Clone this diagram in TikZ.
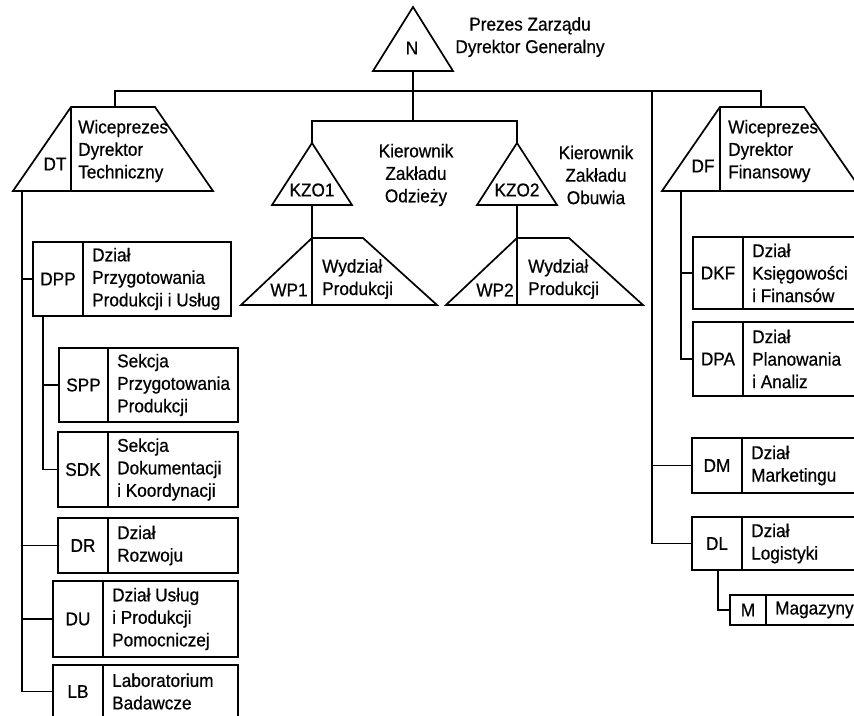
\documentclass[tikz,border=0pt]{standalone}
\usepackage{fontspec}
\setmainfont{Liberation Sans}[FakeStretch=0.93,FakeBold=0.6]
\usetikzlibrary{fit}

% Box with a code field on the left and a description on the right:
% #1 name, #2 left, #3 top, #4 right, #5 bottom, #6 divider x, #7 code, #8 description
\newcommand\orgbox[8]{%
  \coordinate (#1-nw) at (#2,#3);
  \coordinate (#1-se) at (#4,#5);
  \node[boxshape, fit=(#1-nw)(#1-se)] (#1) {};
  \draw[outline] (#6,#3) -- (#6,#5);
  \node[txt] (#1-code) at ({(#2+#6)/2},{(#3+#5)/2}) {#7};
  \node[lbl] (#1-label) at ({#6+9},{(#3+#5)/2}) {#8};
}

\begin{document}
\begin{tikzpicture}[x=1pt,y=-1pt,
  outline/.style={draw, line width=1.7pt, line join=miter},
  boxshape/.style={draw, line width=1.7pt, inner sep=0pt, rectangle},
  conn/.style={draw, line width=1.9pt},
  txt/.style={font=\fontsize{18.5}{22.5}\selectfont, inner sep=0pt},
  lbl/.style={txt, align=left, anchor=west},
  ctr/.style={txt, align=center}]

\useasboundingbox (0,0) rectangle (854,715);
\fill[white] (0,0) rectangle (854,715);
\clip (0,0) rectangle (854,715);

% ---- President (triangle) ----
\coordinate (N-apex) at (413,7);
\coordinate (N-base) at (413,71);
\draw[outline] (N-apex) -- (373,71) -- (453,71) -- cycle;
\node[txt] (N) at (412,48) {N};
\node[ctr] (N-label) at (530,37) {Prezes Zarządu\\Dyrektor Generalny};

% ---- Technical vice-president (trapezoid) ----
\draw[outline] (13,191) -- (71,107) -- (155,107) -- (213,191) -- cycle;
\draw[outline] (71,107) -- (71,191);
\coordinate (DT-top) at (115,107);
\coordinate (DT-foot) at (22,191);
\node[txt] (DT) at (55,164) {DT};
\node[lbl] (DT-label) at (78,151) {Wiceprezes\\Dyrektor\\Techniczny};

% ---- Financial vice-president (trapezoid) ----
\draw[outline] (662,191) -- (720,107) -- (804,107) -- (862,191) -- cycle;
\draw[outline] (720,107) -- (720,191);
\coordinate (DF-top) at (761,107);
\coordinate (DF-foot) at (681,191);
\node[txt] (DF) at (703,166) {DF};
\node[lbl] (DF-label) at (728,151) {Wiceprezes\\Dyrektor\\Finansowy};

% ---- Plant managers (triangles) ----
\coordinate (KZO1-apex) at (312,143);
\coordinate (KZO1-base) at (312,205);
\draw[outline] (KZO1-apex) -- (272,205) -- (352,205) -- cycle;
\node[txt] (KZO1) at (312,190) {KZO1};
\node[ctr] (KZO1-label) at (416,175) {Kierownik\\Zakładu\\Odzieży};

\coordinate (KZO2-apex) at (517,143);
\coordinate (KZO2-base) at (517,205);
\draw[outline] (KZO2-apex) -- (477,205) -- (557,205) -- cycle;
\node[txt] (KZO2) at (517,190) {KZO2};
\node[ctr] (KZO2-label) at (596,175) {Kierownik\\Zakładu\\Obuwia};

% ---- Production departments (trapezoids) ----
\coordinate (WP1-top) at (312,238);
\draw[outline] (241,305) -- (312,238) -- (363,238) -- (437,305) -- cycle;
\draw[outline] (312,238) -- (312,305);
\node[txt] (WP1) at (289,290) {WP1};
\node[lbl] (WP1-label) at (322,279) {Wydział\\Produkcji};

\coordinate (WP2-top) at (517,238);
\draw[outline] (446,305) -- (517,238) -- (569,238) -- (643,305) -- cycle;
\draw[outline] (517,238) -- (517,305);
\node[txt] (WP2) at (495,290) {WP2};
\node[lbl] (WP2-label) at (528,279) {Wydział\\Produkcji};

% ---- Departments and sections ----
\orgbox{DPP}{33}{242}{231}{316}{83}{DPP}{Dział\\Przygotowania\\Produkcji i Usług}
\orgbox{SPP}{59}{348}{238}{422}{108}{SPP}{Sekcja\\Przygotowania\\Produkcji}
\orgbox{SDK}{58}{432}{238}{507}{108}{SDK}{Sekcja\\Dokumentacji\\i Koordynacji}
\orgbox{DR}{58}{518}{238}{573}{108}{DR}{Dział\\Rozwoju}
\orgbox{DU}{53}{581}{238}{657}{103}{DU}{Dział Usług\\i Produkcji\\Pomocniczej}
\orgbox{LB}{53}{665}{238}{718}{103}{LB}{Laboratorium\\Badawcze}

\orgbox{DKF}{693}{237}{870}{309}{743}{DKF}{Dział\\Księgowości\\i Finansów}
\orgbox{DPA}{693}{322}{870}{396}{743}{DPA}{Dział\\Planowania\\i Analiz}
\orgbox{DM}{692}{438}{870}{493}{742}{DM}{Dział\\Marketingu}
\orgbox{DL}{692}{517}{870}{570}{742}{DL}{Dział\\Logistyki}
\orgbox{M}{730}{595}{870}{625}{766}{M}{Magazyny}

% ---- Connectors ----
\coordinate (top-bus) at (413,91);
\coordinate (KZO-bus) at (413,121);
\coordinate (F-bus) at (652,91);
\coordinate (DPP-foot) at (43,316);
\coordinate (DL-foot) at (718,570);

\draw[conn] (N-base) -- (KZO-bus);
\draw[conn] (DT-top) |- (top-bus) -| (DF-top);
\draw[conn] (KZO1-apex) |- (KZO-bus) -| (KZO2-apex);
\draw[conn] (KZO1-base) -- (WP1-top);
\draw[conn] (KZO2-base) -- (WP2-top);

\draw[conn] (DT-foot) |- (LB.west);
\draw[conn] (DT-foot |- DPP.west) -- (DPP.west);
\draw[conn] (DT-foot |- DR.west) -- (DR.west);
\draw[conn] (DT-foot |- DU.west) -- (DU.west);
\draw[conn] (DPP-foot) |- (SDK.west);
\draw[conn] (DPP-foot |- SPP.west) -- (SPP.west);

\draw[conn] (DF-foot) |- (DPA.west);
\draw[conn] (DF-foot |- DKF.west) -- (DKF.west);
\draw[conn] (F-bus) |- (DL.west);
\draw[conn] (F-bus |- DM.west) -- (DM.west);
\draw[conn] (DL-foot) |- (M.west);

\end{tikzpicture}
\end{document}
